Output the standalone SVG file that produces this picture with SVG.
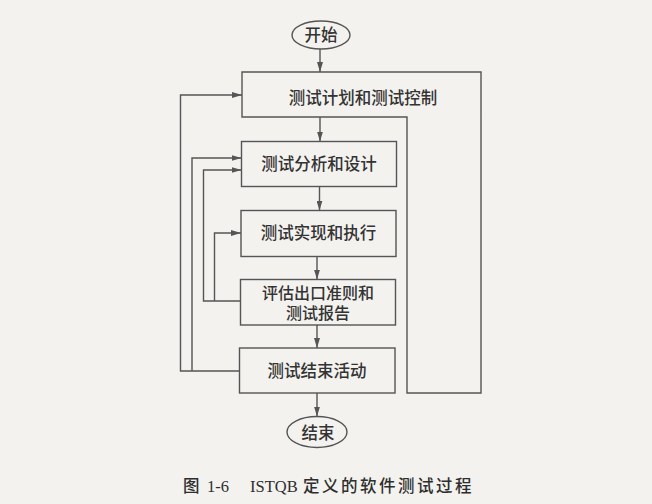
<svg xmlns="http://www.w3.org/2000/svg" width="652" height="504" viewBox="0 0 652 504">
  <defs>
    <marker id="ah" viewBox="0 0 10 6" refX="10" refY="3" markerWidth="10" markerHeight="6" markerUnits="userSpaceOnUse" orient="auto">
      <path d="M0,0 L10,3 L0,6 Z" fill="#555"/>
    </marker>
    <style>
      .ln{fill:none;stroke:#555;stroke-width:1.4}
      .box{fill:none;stroke:#555;stroke-width:1.4}
      .t{font-family:"Noto Sans CJK SC","Noto Sans",sans-serif;font-size:16.5px;font-weight:500;fill:#333;text-anchor:middle}
      .t2{font-size:16px}
      .cap{font-family:"Liberation Serif","Noto Sans CJK SC",serif;font-size:16.5px;font-weight:500;fill:#2e2e2e}
    </style>
  </defs>
  <rect width="652" height="504" fill="#f3f2ef"/>

  <g id="start">
    <ellipse class="box" cx="321" cy="35" rx="29" ry="14"/>
    <text class="t" x="321" y="41">开始</text>
  </g>
  <g id="plan">
    <path class="box" d="M242,72 H481 V393 H407 V117 H242 Z"/>
    <text class="t" x="363" y="104">测试计划和测试控制</text>
  </g>
  <g id="analysis">
    <rect class="box" x="241.5" y="141.5" width="155" height="45"/>
    <text class="t" x="319" y="170">测试分析和设计</text>
  </g>
  <g id="impl">
    <rect class="box" x="241" y="210.5" width="155" height="46"/>
    <text class="t" x="318.5" y="239">测试实现和执行</text>
  </g>
  <g id="eval">
    <rect class="box" x="240.5" y="279.5" width="155" height="45.5"/>
    <text class="t t2" x="318" y="298.5">评估出口准则和</text>
    <text class="t t2" x="318" y="319">测试报告</text>
  </g>
  <g id="closure">
    <rect class="box" x="239.5" y="348" width="155.5" height="45"/>
    <text class="t" x="317" y="376.5">测试结束活动</text>
  </g>
  <g id="end">
    <ellipse class="box" cx="317" cy="432" rx="30" ry="15.5"/>
    <text class="t" x="318" y="438.5">结束</text>
  </g>

  <g id="connectors">
    <line class="ln" x1="320" y1="49" x2="320" y2="72" marker-end="url(#ah)"/>
    <line class="ln" x1="320" y1="117" x2="320" y2="141.5" marker-end="url(#ah)"/>
    <line class="ln" x1="319.5" y1="186.5" x2="319.5" y2="210.5" marker-end="url(#ah)"/>
    <line class="ln" x1="317" y1="256.5" x2="317" y2="279.5" marker-end="url(#ah)"/>
    <line class="ln" x1="317" y1="325" x2="317" y2="348" marker-end="url(#ah)"/>
    <line class="ln" x1="317" y1="393" x2="317" y2="416.5" marker-end="url(#ah)"/>

    <path class="ln" d="M239.5,371 H180.5 V95 H242" marker-end="url(#ah)"/>
    <path class="ln" d="M192,371 V158 H241.5" marker-end="url(#ah)"/>
    <path class="ln" d="M240.5,301 H203.5 V170 H241.5" marker-end="url(#ah)"/>
    <path class="ln" d="M214.5,301 V233 H241" marker-end="url(#ah)"/>
  </g>

  <g id="caption">
    <text class="cap" x="183" y="492">图</text>
    <text class="cap" x="207" y="492">1-6</text>
    <text class="cap" x="250" y="492">ISTQB</text>
    <text class="cap" x="303" y="492" letter-spacing="2.5">定义的软件测试过程</text>
  </g>
</svg>
